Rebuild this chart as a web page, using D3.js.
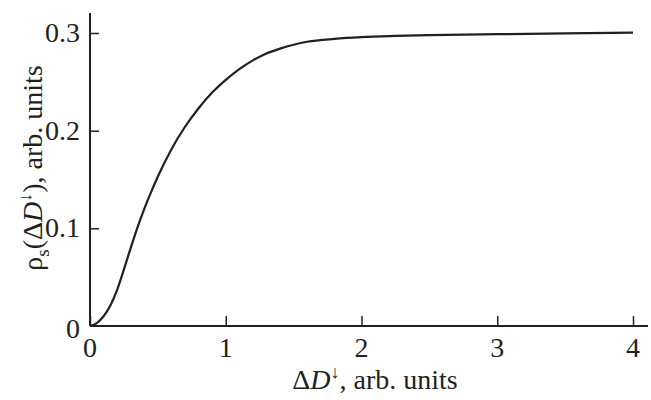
<!DOCTYPE html>
<html><head><meta charset="utf-8">
<script src="https://cdn.jsdelivr.net/npm/d3@7"></script>
<style>body{margin:0;background:#fff}svg{display:block}text{font-family:"Liberation Serif","Times New Roman",serif;fill:#231f20}</style>
</head><body>
<svg id="c" width="651" height="400"></svg>
<script>
const xValues = [0, 0.05, 0.1, 0.15, 0.2, 0.25, 0.3, 0.35, 0.4, 0.45, 0.5, 0.6, 0.7, 0.8, 0.9, 1.0, 1.1, 1.2, 1.3, 1.4, 1.5, 1.6, 1.8, 2.0, 2.25, 2.5, 3.0, 3.5, 4.0];
const rhoValues = [0, 0.003, 0.010, 0.021, 0.037, 0.058, 0.080, 0.101, 0.120, 0.137, 0.153, 0.181, 0.204, 0.223, 0.239, 0.252, 0.263, 0.272, 0.279, 0.284, 0.288, 0.291, 0.294, 0.2958, 0.297, 0.2978, 0.2988, 0.2996, 0.3003];
const xTicks = [0, 1, 2, 3, 4];
const yTicks = [0, 0.1, 0.2, 0.3];
const xTickLabels = ["0", "1", "2", "3", "4"];
const yTickLabels = ["0", "0.1", "0.2", "0.3"];

const svg = d3.select("#c");
const x = d3.scaleLinear().domain([0, 4]).range([90, 633]);
const y = d3.scaleLinear().domain([0, 0.3]).range([326, 33]);
const ink = "#231f20";

// axes lines
svg.append("line").attr("x1", x(0)).attr("x2", 648).attr("y1", y(0)).attr("y2", y(0)).attr("stroke", ink).attr("stroke-width", 2);
svg.append("line").attr("x1", x(0)).attr("x2", x(0)).attr("y1", y(0)).attr("y2", 13).attr("stroke", ink).attr("stroke-width", 2);

// x ticks (inward)
const xAxis = d3.axisTop(x).tickValues(xTicks).tickSize(10).tickFormat("");
const gx = svg.append("g").attr("transform", `translate(0,${y(0)})`).call(xAxis);
gx.select(".domain").remove();
gx.selectAll(".tick line").attr("stroke", ink).attr("stroke-width", 1.5);
xTicks.forEach((t, i) => {
  svg.append("text").attr("x", x(t)).attr("y", 357).attr("text-anchor", "middle").attr("font-size", 28).text(xTickLabels[i]);
});

// y ticks (inward)
const yAxis = d3.axisRight(y).tickValues(yTicks.filter(d => d > 0)).tickSize(9).tickFormat("");
const gy = svg.append("g").attr("transform", `translate(${x(0)},0)`).call(yAxis);
gy.select(".domain").remove();
gy.selectAll(".tick line").attr("stroke", ink).attr("stroke-width", 1.5);
yTicks.forEach((t, i) => {
  svg.append("text").attr("x", 80).attr("y", y(t) + (t === 0 ? 12 : 9)).attr("text-anchor", "end").attr("font-size", 28).text(yTickLabels[i]);
});

// curve
const line = d3.line().x((d, i) => x(xValues[i])).y(d => y(d)).curve(d3.curveMonotoneX);
svg.append("path").datum(rhoValues).attr("d", line).attr("fill", "none").attr("stroke", ink).attr("stroke-width", 2.2);

// x title
const xt = svg.append("text").attr("x", 375).attr("y", 389).attr("text-anchor", "middle").attr("font-size", 28);
xt.append("tspan").text("Δ");
xt.append("tspan").attr("font-style", "italic").text("D");
xt.append("tspan").attr("font-size", 18).attr("font-weight", "bold").attr("dy", -11).text("↓");
xt.append("tspan").attr("dy", 11).text(", arb. units");

// y title
const yt = svg.append("text").attr("transform", "translate(42,168) rotate(-90)").attr("text-anchor", "middle").attr("font-size", 28);
yt.append("tspan").text("ρ");
yt.append("tspan").attr("font-size", 19).attr("dy", 7).text("s");
yt.append("tspan").attr("dy", -7).text("(Δ");
yt.append("tspan").attr("font-style", "italic").text("D");
yt.append("tspan").attr("font-size", 18).attr("font-weight", "bold").attr("dy", -11).text("↓");
yt.append("tspan").attr("dy", 11).text("), arb. units");
</script>
</body></html>
